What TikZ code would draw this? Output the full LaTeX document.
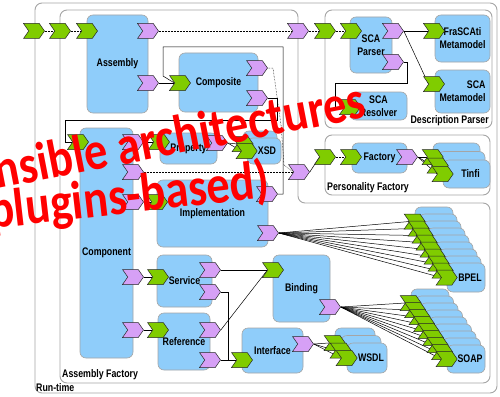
\documentclass[tikz,border=0pt]{standalone}
\usepackage{fontspec}
\newfontfamily\diagfont[FakeStretch=0.8]{Liberation Sans}
\newfontfamily\bannerfont[FakeStretch=0.86]{Carlito}
\usetikzlibrary{shapes.symbols}
\definecolor{srvgreen}{RGB}{128,204,0}
\definecolor{refpurple}{RGB}{214,160,246}
\definecolor{compblue}{RGB}{143,205,250}
\definecolor{framegray}{RGB}{165,165,165}
\pgfdeclarelayer{frames}
\pgfdeclarelayer{wires}
\pgfsetlayers{frames,wires,main}
\begin{document}
\begin{tikzpicture}[x=1pt,y=-1pt,
    font=\diagfont\bfseries\fontsize{11}{13}\selectfont,
    cframe/.style={draw=framegray,fill=white,line width=0.9pt,rounded corners=7pt},
    comp/.style={draw=framegray,fill=compblue,rounded corners=6pt,line width=0.6pt,inner sep=1pt,align=center},
    port/.style={signal,signal to=east,signal from=west,signal pointer angle=110,draw=black!85,line width=0.5pt,minimum width=21,minimum height=15,inner sep=0pt},
    srv/.style={port,fill=srvgreen},
    rfc/.style={port,fill=refpurple},
    wire/.style={black,line width=0.5pt},
    promo/.style={wire,densely dotted},
    banner/.style={text=red,font=\bannerfont\bfseries\fontsize{54}{56}\selectfont,inner sep=0pt}]
\useasboundingbox (0,0) rectangle (500,396);

% composites
\begin{pgfonlayer}{frames}
  \draw[cframe] (35,3) rectangle (497,393);
  \draw[cframe] (60,10) -- (298,10) -- (298,203) -- (490,203) -- (490,383) -- (60,383) -- cycle;
  \draw[cframe] (325,10) rectangle (492,128);
  \draw[cframe] (325,135) rectangle (490,195);
\end{pgfonlayer}
\node[anchor=base west,inner sep=0pt] (runtimeLbl) at (36,391) {Run-time};
\node[anchor=base west,inner sep=0pt] (asmFactoryLbl) at (62,377) {Assembly Factory};
\node[anchor=base east,inner sep=0pt] (descParserLbl) at (489,123) {Description Parser};
\node[anchor=base west,inner sep=0pt] (persFactoryLbl) at (327,190) {Personality Factory};

% assembly factory components
\node[comp,minimum width=61,minimum height=98] (assembly) at (117.5,64) {Assembly};
\node[comp,minimum width=79,minimum height=59] (composite) at (218.5,82.5) {Composite};
\node[comp,minimum width=57,minimum height=31] (property) at (188.5,148.5) {Property};
\foreach \k in {0,1}
  \node[comp,minimum width=34,minimum height=26] (xsd\k) at ({264-(1-\k)*4},{151-(1-\k)*7}) {\ifnum\k=1 \hspace*{6pt}XSD\fi};
\node[comp,minimum width=53,minimum height=230] (component) at (106.5,243) {\raisebox{-12pt}[0pt][0pt]{Component}};
\node[comp,minimum width=111,minimum height=67] (implementation) at (212.5,213.5) {Implementation};
\node[comp,minimum width=55,minimum height=52] (service) at (184.5,281) {Service};
\node[comp,minimum width=52,minimum height=57] (reference) at (184,341.5) {Reference};
\node[comp,minimum width=57,minimum height=67] (binding) at (301.5,288.5) {Binding};
\node[comp,minimum width=61,minimum height=45] (interface) at (272.5,350.5) {Interface};
\foreach \k in {0,...,8}
  \node[comp,minimum width=38,minimum height=29] (bpel\k) at ({466-(8-\k)*4},{277.5-(8-\k)*7}) {\ifnum\k=8 \hspace*{8pt}BPEL\fi};
\foreach \k in {0,...,8}
  \node[comp,minimum width=38,minimum height=28] (soap\k) at ({466-(8-\k)*4.5},{359-(8-\k)*7}) {\ifnum\k=8 \hspace*{8pt}SOAP\fi};
\foreach \k in {0,1,2}
  \node[comp,minimum width=40,minimum height=30] (wsdl\k) at ({367-(2-\k)*6},{358-(2-\k)*7.5}) {\ifnum\k=2 \hspace*{8pt}WSDL\fi};

% description parser components
\node[comp,minimum width=42,minimum height=56] (parser) at (371,45) {SCA\\Parser};
\node[comp,minimum width=55,minimum height=47] (frascatiMM) at (462.5,38.5) {FraSCAti\\Metamodel};
\node[comp,minimum width=55,minimum height=43,align=right] (scaMM) at (462.5,91.5) {SCA\\Metamodel};
\node[comp,minimum width=57,minimum height=28] (resolver) at (378.5,106) {SCA\\Resolver};

% personality factory components
\node[comp,minimum width=55,minimum height=30] (factory) at (379.5,158) {Factory};
\foreach \k in {0,1,2}
  \node[comp,minimum width=47,minimum height=28] (tinfi\k) at ({466.5-(2-\k)*5},{174-(2-\k)*8.5}) {\ifnum\k=2 \hspace*{8pt}Tinfi\fi};

% services and references
\node[srv] (rtS) at (34,31) {};
\node[srv] (afS) at (60,31) {};
\node[srv] (asmS) at (87,31) {};
\node[rfc] (asmR1) at (148,31) {};
\node[rfc] (asmR2) at (148,83) {};
\node[rfc] (afR1) at (298,31) {};
\node[srv] (dpS) at (325,31) {};
\node[srv] (parS) at (351,31) {};
\node[rfc] (parR1) at (393,31) {};
\node[rfc] (parR2) at (393,62) {};
\node[srv] (fraS) at (434,31) {};
\node[srv] (scaS) at (434,84) {};
\node[srv] (resS) at (350,107) {};
\node[srv] (cpsS) at (180,83) {};
\node[rfc] (cpsR1) at (257,68) {};
\node[rfc] (cpsR2) at (257,98) {};
\node[srv] (cmpS) at (78,142) {};
\node[rfc] (cmpR1) at (133,142) {};
\node[srv] (prpS) at (159,142) {};
\node[rfc] (prpR) at (217,143) {};
\foreach \k in {0,1}
  \node[srv] (xsdS\k) at (xsd\k.west) {};
\node[rfc] (cmpR2) at (133,172) {};
\node[rfc] (afR2) at (299,172) {};
\node[rfc] (cmpR3) at (133,202) {};
\node[srv] (impS) at (157,202) {};
\node[rfc] (impR1) at (267,194) {};
\node[rfc] (impR2) at (268,233) {};
\node[rfc] (cmpR4) at (133,277) {};
\node[srv] (srvS) at (158,277) {};
\node[rfc] (srvR1) at (210,270) {};
\node[rfc] (srvR2) at (210,292) {};
\node[rfc] (cmpR5) at (133,330) {};
\node[srv] (refS) at (158,330) {};
\node[rfc] (refR1) at (210,330) {};
\node[rfc] (refR2) at (210,360) {};
\node[srv] (bndS) at (273,270) {};
\node[rfc] (bndR) at (330,307) {};
\node[srv] (itfS) at (242,360) {};
\node[rfc] (itfR) at (303,344) {};
\foreach \k in {0,...,8}
  \node[srv] (bpelS\k) at (bpel\k.west) {};
\foreach \k in {0,...,8}
  \node[srv] (soapS\k) at (soap\k.west) {};
\foreach \k in {0,1,2}
  \node[srv] (wsdlS\k) at (wsdl\k.west) {};
\node[srv] (pfS) at (325,157) {};
\node[srv] (facS) at (351,157) {};
\node[rfc] (facR) at (407,157) {};
\foreach \k in {0,1,2}
  \node[srv] (tinfiS\k) at (tinfi\k.west) {};

% wires
\begin{pgfonlayer}{wires}
  \draw[promo] (rtS.east) -- (afS.west);
  \draw[promo] (afS.east) -- (asmS.west);
  \draw[promo] (asmR1.east) -- (afR1.west);
  \draw[promo] (afR1.east) -- (dpS.west);
  \draw[promo] (dpS.east) -- (parS.west);
  \draw[wire] (parR1.east) -- (fraS.west);
  \draw[wire] (parR1.east) -- (scaS.west);
  \draw[wire] (parR2.east) -- (407,62) -- (407,83) -- (335,83) |- (resS.west);
  \draw[wire] (asmR2.east) -- (cpsS.west);
  \draw[wire] (impR1.east) -- (283,194) -- (283,47) -- (163,47) -- (163,76) -- (cpsS.west);
  \draw[wire] (cpsR2.east) -- (277,98) -- (277,120) -- (65,120) |- (cmpS.west);
  \draw[promo] (cpsR1.east) -- (273,68) -- (281,125) -- (284,165) -- (afR2.west);
  \draw[promo] (cmpR2.east) -- (afR2.west);
  \draw[wire] (afR2.east) -- (pfS.west);
  \draw[promo] (pfS.east) -- (facS.west);
  \foreach \k in {0,1,2}
    \draw[wire] (facR.east) -- (tinfiS\k.west);
  \draw[wire] (cmpR1.east) -- (prpS.west);
  \foreach \k in {0,1}
    \draw[wire] (prpR.east) -- (xsdS\k.west);
  \draw[wire] (cmpR3.east) -- (impS.west);
  \foreach \k in {0,...,8}
    \draw[wire] (impR2.east) -- (bpelS\k.west);
  \draw[wire] (cmpR4.east) -- (srvS.west);
  \draw[wire] (srvR1.east) -- (bndS.west);
  \draw[wire] (srvR2.east) -- (228,292) |- (itfS.west);
  \draw[wire] (cmpR5.east) -- (refS.west);
  \draw[wire] (refR1.east) -- (bndS.west);
  \draw[wire] (refR2.east) -- (itfS.west);
  \foreach \k in {0,...,8}
    \draw[wire] (bndR.east) -- (soapS\k.west);
  \foreach \k in {0,1,2}
    \draw[wire] (itfR.east) -- (wsdlS\k.west);
\end{pgfonlayer}

% overlay
\node[banner,rotate=11,anchor=base east] (bannerTop) at (368,117) {Extensible architectures};
\node[banner,rotate=6.5,anchor=base east] (bannerBot) at (271,197) {(plugins-based)};
\end{tikzpicture}
\end{document}
